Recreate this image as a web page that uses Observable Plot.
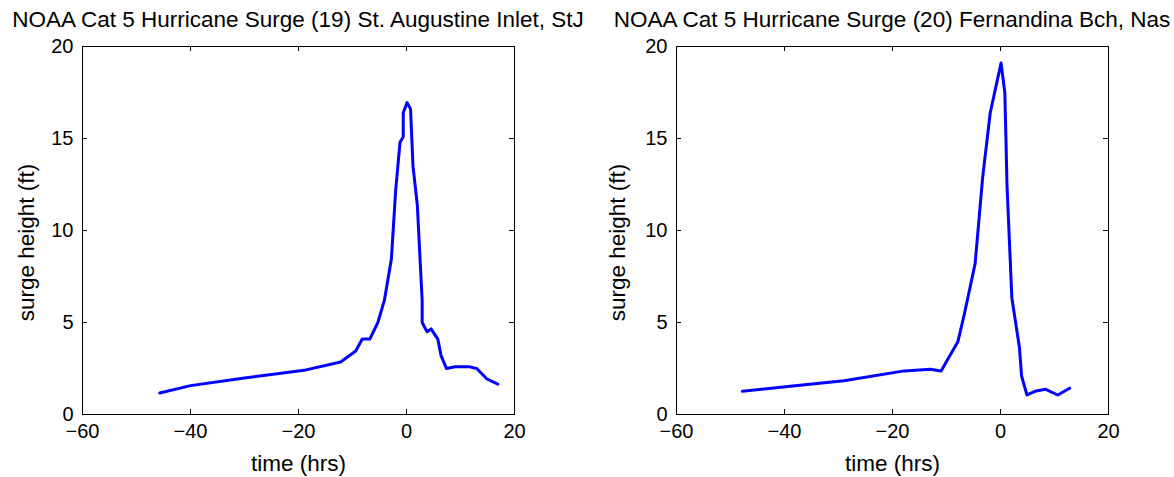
<!DOCTYPE html>
<html>
<head>
<meta charset="utf-8">
<script src="https://cdn.jsdelivr.net/npm/d3@7"></script>
<script src="https://cdn.jsdelivr.net/npm/@observablehq/plot@0.6"></script>
<style>
  html, body { margin: 0; padding: 0; background: #fff; }
  #wrap { position: relative; width: 1174px; height: 477px; overflow: hidden; font-family: "Liberation Sans", Arial, sans-serif; }
  .panel { position: absolute; top: 0; width: 587px; height: 477px; }
  .panel svg { position: absolute; left: 0; top: 0; }
  .title { position: absolute; top: 9px; font-size: 22.5px; line-height: 22.5px; white-space: nowrap; transform: translateX(-50%); color: #000; }
</style>
</head>
<body>
<div id="wrap"></div>
<script>
// ---- data ----
const titles = [
  "NOAA Cat 5 Hurricane Surge (19) St. Augustine Inlet, StJ",
  "NOAA Cat 5 Hurricane Surge (20) Fernandina Bch, Nas"
];
const xLabel = "time (hrs)";
const yLabel = "surge height (ft)";
const xTicks = [-60, -40, -20, 0, 20];
const yTicks = [0, 5, 10, 15, 20];

const leftTime  = [-45.7, -40, -30, -19, -12.2, -9.4, -8.2, -6.8, -5.3, -4.1, -2.8, -2.0, -1.2, -0.6, -0.6, 0.1, 0.75, 1.2, 2.0, 2.9, 2.9, 3.8, 4.55, 5.8, 6.4, 7.4, 9.0, 11.5, 13.0, 14.9, 16.9];
const leftSurge = [1.17, 1.57, 1.98, 2.4, 2.85, 3.45, 4.1, 4.1, 5.0, 6.2, 8.45, 12.2, 14.8, 15.1, 16.4, 16.95, 16.6, 13.5, 11.4, 6.2, 5.0, 4.5, 4.65, 4.1, 3.2, 2.5, 2.6, 2.6, 2.5, 1.93, 1.65];

const rightTime  = [-47.8, -38.5, -29, -17.8, -13.0, -11.0, -7.9, -6.7, -4.7, -3.3, -1.9, 0.1, 0.8, 1.0, 1.2, 2.1, 3.5, 3.9, 4.9, 6.6, 8.4, 10.6, 12.8];
const rightSurge = [1.26, 1.55, 1.83, 2.37, 2.46, 2.36, 3.95, 5.45, 8.2, 12.9, 16.4, 19.1, 17.5, 15.1, 12.5, 6.35, 3.65, 2.1, 1.06, 1.28, 1.37, 1.06, 1.43];

// ---- layout ----
const W = 587, H = 477, MT = 46, MB = 63;
const panels = [
  {left: 0,   ml: 82, mr: 73, time: leftTime,  surge: leftSurge,  title: titles[0], ylDx: -56},
  {left: 587, ml: 89, mr: 66, time: rightTime, surge: rightSurge, title: titles[1], ylDx: -59}
];

const wrap = document.getElementById("wrap");
for (const p of panels) {
  const data = p.time.map((t, i) => ({t, s: p.surge[i]}));
  const fw = W - p.ml - p.mr, fh = H - MT - MB, tl = 5;
  const svg = Plot.plot({
    width: W, height: H,
    marginTop: MT, marginBottom: MB, marginLeft: p.ml, marginRight: p.mr,
    style: {fontFamily: "'Liberation Sans', Arial, sans-serif", fontSize: "20px", color: "#000", background: "#fff"},
    x: {domain: [-60, 20]},
    y: {domain: [0, 20]},
    marks: [
      Plot.axisX(xTicks, {anchor: "bottom", tickSize: 0, tickPadding: 9, label: null, fontSize: 20}),
      Plot.axisY(yTicks, {anchor: "left", tickSize: 0, tickPadding: 9, label: null, fontSize: 20}),
      Plot.tickX(xTicks, {x: d => d, insetTop: fh - tl, stroke: "#000"}),
      Plot.tickX(xTicks, {x: d => d, insetBottom: fh - tl, stroke: "#000"}),
      Plot.tickY(yTicks, {y: d => d, insetRight: fw - tl, stroke: "#000"}),
      Plot.tickY(yTicks, {y: d => d, insetLeft: fw - tl, stroke: "#000"}),
      Plot.frame({stroke: "#000", strokeWidth: 1}),
      Plot.line(data, {x: "t", y: "s", stroke: "#0000ff", strokeWidth: 3, strokeLinejoin: "round"}),
      Plot.text([xLabel], {frameAnchor: "bottom", dy: 56, lineAnchor: "bottom", textAnchor: "middle", fontSize: 22.5, fill: "#000"}),
      Plot.text([yLabel], {frameAnchor: "left", dx: p.ylDx, dy: 12, rotate: -90, textAnchor: "middle", lineAnchor: "middle", fontSize: 22.5, fill: "#000"})
    ]
  });
  const div = document.createElement("div");
  div.className = "panel";
  div.style.left = p.left + "px";
  div.appendChild(svg);
  const t = document.createElement("div");
  t.className = "title";
  t.style.left = (p.ml + fw / 2) + "px";
  t.textContent = p.title;
  div.appendChild(t);
  wrap.appendChild(div);
}
</script>
</body>
</html>
